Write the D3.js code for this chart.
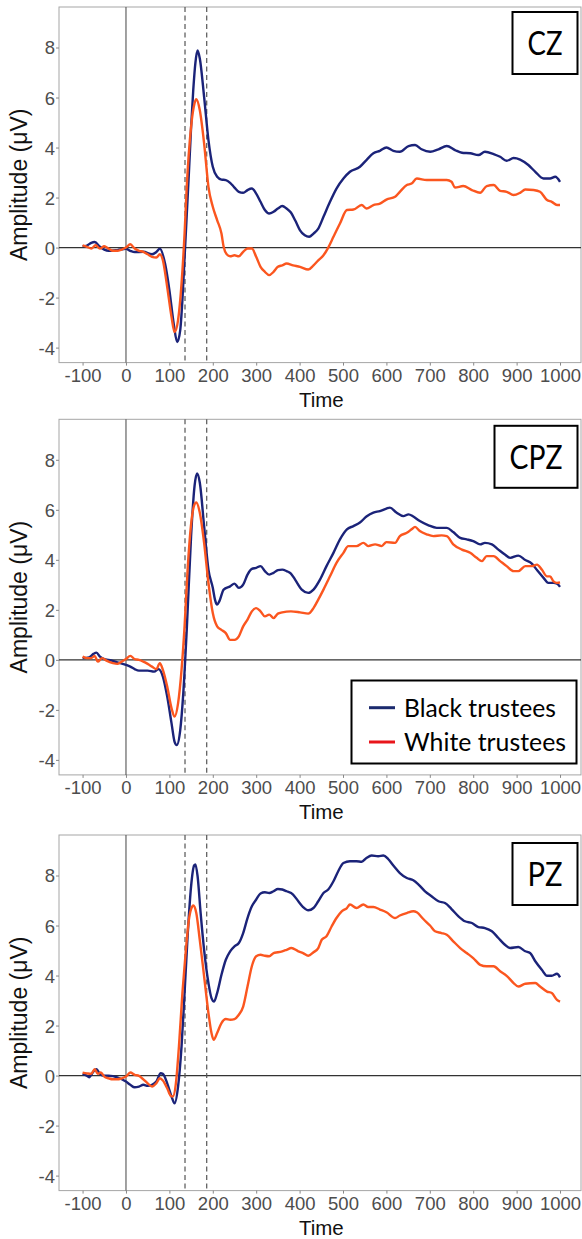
<!DOCTYPE html>
<html>
<head>
<meta charset="utf-8">
<script src="https://cdn.jsdelivr.net/npm/d3@7/dist/d3.min.js"></script>
<style>
  html, body { margin: 0; padding: 0; background: #fff; }
  svg { display: block; }
</style>
</head>
<body>
<svg id="chart" width="582" height="1239"></svg>
<script>
// ---------------- DATA ----------------
const electrodes = ["CZ", "CPZ", "PZ"];
const seriesNames = ["Black trustees", "White trustees"];
const xTicks = [-100, 0, 100, 200, 300, 400, 500, 600, 700, 800, 900, 1000];
const yTicks = [-4, -2, 0, 2, 4, 6, 8];
const dashedTimes = [136, 186];

const czBlack = [[-100,0.05],[-90,0.08],[-80,0.19],[-72,0.22],[-60,0.03],[-50,-0.08],[-40,-0.13],[-20,-0.1],[0,-0.05],[10,-0.13],[20,-0.18],[40,-0.17],[60,-0.27],[70,-0.18],[78,-0.05],[90,-0.64],[100,-1.7],[110,-3.05],[118,-3.78],[125,-3.3],[130,-2.1],[135,-0.4],[140,1.3],[145,3.0],[150,4.8],[155,6.3],[160,7.4],[165,7.88],[170,7.57],[180,6.03],[190,4.3],[200,3.23],[210,2.83],[220,2.72],[230,2.7],[240,2.59],[250,2.4],[260,2.23],[270,2.19],[280,2.3],[290,2.36],[300,2.16],[310,1.83],[320,1.5],[330,1.36],[340,1.43],[350,1.56],[360,1.66],[370,1.56],[380,1.4],[390,1.08],[401,0.69],[412,0.49],[422,0.43],[432,0.56],[443,0.76],[455,1.23],[470,1.83],[485,2.36],[501,2.76],[516,3.03],[539,3.23],[554,3.5],[570,3.77],[585,3.87],[600,4.0],[616,3.87],[631,3.83],[651,4.06],[666,4.1],[681,3.93],[701,3.83],[720,3.93],[739,4.06],[758,3.9],[774,3.79],[793,3.77],[812,3.7],[827,3.83],[847,3.74],[862,3.63],[877,3.47],[893,3.58],[908,3.52],[927,3.3],[943,3.03],[962,2.76],[977,2.76],[989,2.83],[1000,2.63]];

const czWhite = [[-100,0.09],[-90,0.03],[-80,-0.04],[-70,0.09],[-60,-0.04],[-50,0.05],[-40,-0.04],[-30,-0.13],[-20,-0.13],[-10,-0.08],[0,0],[10,0.13],[20,-0.04],[30,-0.13],[40,-0.17],[50,-0.27],[60,-0.37],[70,-0.4],[78,-0.27],[85,-0.5],[95,-1.58],[105,-2.78],[112,-3.38],[120,-2.9],[128,-1.44],[135,0.56],[140,2.43],[150,4.83],[158,5.77],[162,5.93],[170,5.5],[180,4.17],[190,2.43],[200,1.63],[210,1.1],[220,0.56],[225,0.03],[232,-0.27],[240,-0.35],[250,-0.31],[260,-0.35],[270,-0.17],[280,-0.04],[290,-0.04],[300,-0.37],[310,-0.77],[320,-0.97],[330,-1.1],[340,-0.97],[350,-0.77],[360,-0.71],[370,-0.64],[385,-0.71],[401,-0.77],[420,-0.88],[432,-0.71],[443,-0.51],[455,-0.31],[466,0],[478,0.43],[493,0.96],[509,1.5],[524,1.52],[543,1.7],[554,1.56],[570,1.7],[585,1.76],[600,1.92],[620,2.03],[631,2.23],[647,2.5],[658,2.56],[670,2.76],[693,2.7],[716,2.7],[739,2.7],[750,2.63],[758,2.4],[777,2.46],[797,2.3],[816,2.19],[831,2.46],[847,2.5],[862,2.27],[877,2.23],[893,2.1],[908,2.19],[920,2.32],[939,2.3],[954,2.23],[970,1.9],[981,1.83],[993,1.7],[1000,1.7]];

const cpzBlack = [[-100,0.07],[-85,0.1],[-75,0.24],[-68,0.29],[-60,0.13],[-50,0.03],[-40,0],[-20,-0.1],[0,-0.2],[10,-0.27],[20,-0.37],[30,-0.43],[50,-0.43],[65,-0.47],[75,-0.37],[85,-0.67],[95,-1.47],[105,-2.54],[112,-3.28],[117,-3.41],[125,-2.81],[132,-1.34],[140,1.2],[150,4.95],[158,6.96],[164,7.45],[170,7.09],[180,5.35],[190,3.61],[200,2.88],[205,2.41],[210,2.21],[215,2.34],[225,2.81],[240,2.94],[250,3.05],[260,2.88],[270,3.01],[280,3.41],[290,3.64],[300,3.68],[310,3.75],[320,3.55],[330,3.41],[340,3.48],[350,3.59],[360,3.61],[370,3.55],[380,3.45],[390,3.2],[405,2.81],[420,2.68],[432,2.81],[447,3.21],[462,3.75],[478,4.28],[493,4.82],[509,5.22],[524,5.35],[539,5.49],[554,5.73],[570,5.89],[585,5.95],[600,6.05],[608,6.09],[623,5.89],[639,5.75],[651,5.82],[662,5.73],[677,5.55],[697,5.38],[716,5.28],[739,5.28],[754,5.11],[770,4.88],[785,4.82],[800,4.75],[816,4.62],[827,4.68],[843,4.62],[858,4.41],[873,4.21],[885,4.08],[904,4.17],[920,3.99],[935,3.85],[947,3.59],[962,3.28],[973,3.08],[985,3.08],[993,3.05],[1000,2.92]];

const cpzWhite = [[-100,0.13],[-90,0.07],[-80,0.07],[-72,0.16],[-65,-0.07],[-55,0.07],[-45,-0.03],[-30,-0.13],[-20,-0.16],[-10,-0.07],[0,0.03],[10,0.16],[20,0.03],[30,0],[40,-0.07],[50,-0.16],[60,-0.27],[70,-0.37],[78,-0.13],[85,-0.4],[95,-1.07],[105,-1.94],[112,-2.27],[120,-1.74],[128,-0.4],[135,1.34],[142,3.61],[150,5.42],[158,6.22],[162,6.29],[170,5.89],[180,4.68],[190,3.08],[200,1.87],[210,1.34],[220,1.2],[230,1.07],[240,0.8],[250,0.8],[260,0.94],[270,1.34],[280,1.61],[290,1.94],[300,2.07],[310,1.94],[320,1.74],[330,1.81],[340,1.67],[350,1.85],[360,1.9],[380,1.94],[401,1.9],[420,1.85],[432,2.07],[443,2.41],[455,2.81],[470,3.34],[485,3.88],[501,4.28],[512,4.55],[531,4.55],[547,4.68],[558,4.55],[574,4.62],[589,4.55],[600,4.71],[620,4.68],[631,4.95],[647,5.08],[658,5.22],[666,5.32],[677,5.15],[693,5.02],[708,4.95],[727,4.98],[739,4.95],[754,4.62],[774,4.41],[793,4.28],[808,4.08],[820,3.95],[831,4.15],[847,4.15],[862,3.95],[877,3.75],[893,3.55],[904,3.55],[920,3.75],[935,3.75],[947,3.81],[958,3.61],[970,3.34],[977,3.34],[985,3.14],[993,3.08],[1000,3.1]];

const pzBlack = [[-100,0.07],[-90,-0.01],[-85,-0.07],[-75,0.16],[-68,0.25],[-60,0.07],[-50,-0.01],[-40,-0.01],[-20,-0.07],[0,-0.24],[10,-0.37],[20,-0.47],[30,-0.44],[40,-0.37],[50,-0.41],[60,-0.37],[70,-0.24],[80,0.09],[85,0.07],[95,-0.31],[105,-0.84],[112,-1.11],[120,-0.44],[128,1.16],[135,3.3],[142,5.57],[150,7.57],[157,8.4],[160,8.44],[165,7.97],[172,6.5],[180,5.03],[190,3.7],[197,3.1],[203,2.96],[210,3.3],[220,4.03],[230,4.63],[240,4.97],[250,5.17],[260,5.3],[270,5.7],[280,6.3],[290,6.77],[300,7.04],[310,7.28],[320,7.33],[330,7.3],[340,7.37],[350,7.46],[360,7.44],[370,7.37],[385,7.24],[397,6.97],[408,6.74],[420,6.61],[432,6.7],[443,6.97],[455,7.3],[466,7.44],[478,7.77],[489,8.17],[501,8.5],[516,8.57],[531,8.57],[543,8.55],[554,8.7],[566,8.8],[581,8.77],[593,8.8],[604,8.66],[616,8.4],[631,8.1],[647,7.9],[662,7.81],[674,7.64],[689,7.37],[704,7.17],[720,6.97],[735,6.9],[750,6.66],[766,6.37],[781,6.17],[797,6.1],[812,5.94],[827,5.9],[843,5.77],[858,5.5],[873,5.23],[885,5.1],[904,5.14],[920,4.97],[931,4.9],[943,4.57],[958,4.23],[970,3.99],[981,3.99],[993,4.07],[1000,3.93]];

const pzWhite = [[-100,0.12],[-90,0.09],[-80,0.07],[-72,0.25],[-65,0.07],[-58,0.12],[-50,-0.04],[-40,-0.11],[-30,-0.15],[-20,-0.15],[-10,-0.11],[0,-0.04],[10,0.12],[20,0.03],[30,-0.01],[40,-0.15],[50,-0.31],[60,-0.44],[70,-0.31],[78,-0.11],[85,-0.2],[95,-0.51],[103,-0.81],[108,-0.84],[115,-0.31],[122,1.16],[130,3.3],[138,5.03],[145,6.24],[152,6.74],[155,6.8],[162,6.5],[170,5.43],[180,3.97],[190,2.5],[197,1.7],[202,1.43],[210,1.7],[220,2.1],[230,2.26],[240,2.23],[250,2.26],[260,2.43],[270,2.76],[280,3.56],[290,4.37],[300,4.77],[310,4.83],[320,4.79],[330,4.77],[340,4.9],[350,4.93],[360,4.97],[370,5.03],[381,5.1],[397,4.97],[408,4.9],[420,4.79],[432,4.93],[443,5.1],[451,5.43],[462,5.57],[474,5.97],[485,6.3],[497,6.57],[509,6.7],[516,6.84],[531,6.7],[547,6.84],[558,6.74],[570,6.74],[585,6.64],[600,6.53],[620,6.3],[631,6.4],[647,6.5],[662,6.57],[670,6.53],[685,6.26],[701,5.99],[712,5.77],[727,5.7],[739,5.63],[754,5.37],[770,5.1],[785,4.9],[800,4.7],[816,4.43],[831,4.37],[847,4.37],[862,4.17],[877,3.99],[893,3.7],[904,3.56],[920,3.67],[943,3.7],[954,3.56],[970,3.36],[981,3.3],[993,3.03],[1000,2.96]];

// ---------------- LAYOUT / STYLE ----------------
const panels = [
  { name: electrodes[0], series: [czBlack, czWhite], top: 7 },
  { name: electrodes[1], series: [cpzBlack, cpzWhite], top: 419.3 },
  { name: electrodes[2], series: [pzBlack, pzWhite], top: 835 }
];
const lineColors = ["#1b2379", "#fb561f"];
const legendColors = ["#1b2a6e", "#e8151b"];
const panelH = 355.6;
const plotLeft = 59, plotRight = 581;

const svg = d3.select("#chart");
const x = d3.scaleLinear().domain([-155, 1055]).range([58.7, 583.9]);

const tickFont = "'Liberation Sans', Arial, Helvetica, sans-serif";
const labelFont = "Lato, 'Open Sans', sans-serif";
const fmt = d => String(d);

panels.forEach((p, i) => {
  const y = d3.scaleLinear().domain([-4.6, 9.62]).range([p.top + panelH, p.top]);
  const g = svg.append("g");
  const bottom = p.top + panelH;

  // panel border
  g.append("rect")
    .attr("x", plotLeft).attr("y", p.top)
    .attr("width", plotRight - plotLeft).attr("height", panelH)
    .attr("fill", "none").attr("stroke", "#a6a6a6").attr("stroke-width", 1);

  // x axis
  const xAxis = d3.axisBottom(x).tickValues(xTicks).tickSize(3).tickPadding(3).tickFormat(fmt);
  const gx = g.append("g").attr("transform", `translate(0,${bottom})`).call(xAxis);
  gx.select(".domain").remove();
  gx.selectAll(".tick line").attr("stroke", "#888");
  gx.selectAll(".tick text")
    .attr("fill", "#4d4d4d").attr("font-size", 18.5).attr("font-family", tickFont)
    .attr("dy", null).attr("y", 19.5);

  // y axis
  const yAxis = d3.axisLeft(y).tickValues(yTicks).tickSize(3).tickPadding(3).tickFormat(fmt);
  const gy = g.append("g").attr("transform", `translate(${plotLeft},0)`).call(yAxis);
  gy.select(".domain").remove();
  gy.selectAll(".tick line").attr("stroke", "#888");
  gy.selectAll(".tick text")
    .attr("fill", "#4d4d4d").attr("font-size", 18.5).attr("font-family", tickFont)
    .attr("x", -4).attr("dy", "0.35em");

  // axis titles
  g.append("text")
    .attr("x", (x(-155) + x(1055)) / 2).attr("y", bottom + 44)
    .attr("text-anchor", "middle").attr("font-size", 20.5).attr("font-family", tickFont)
    .attr("fill", "#111").text("Time");
  g.append("text")
    .attr("transform", `translate(27,${p.top + panelH / 2}) rotate(-90)`)
    .attr("text-anchor", "middle").attr("font-size", 23).attr("font-family", tickFont)
    .attr("fill", "#111").text("Amplitude (μV)");

  // reference lines
  g.append("line")
    .attr("x1", plotLeft).attr("x2", plotRight)
    .attr("y1", y(0)).attr("y2", y(0))
    .attr("stroke", "#333").attr("stroke-width", 1.3);
  g.append("line")
    .attr("x1", x(0)).attr("x2", x(0))
    .attr("y1", p.top).attr("y2", bottom)
    .attr("stroke", "#555").attr("stroke-width", 1.1);
  g.selectAll(".dash").data(dashedTimes).join("line")
    .attr("class", "dash")
    .attr("x1", d => x(d)).attr("x2", d => x(d))
    .attr("y1", p.top).attr("y2", bottom)
    .attr("stroke", "#555").attr("stroke-width", 1.2)
    .attr("stroke-dasharray", "5,3.5");

  // lines
  const line = d3.line().x(d => x(d[0])).y(d => y(d[1])).curve(d3.curveMonotoneX);
  p.series.forEach((s, k) => {
    g.append("path").datum(s)
      .attr("d", line).attr("fill", "none")
      .attr("stroke", lineColors[k]).attr("stroke-width", 2.4)
      .attr("stroke-linejoin", "round");
  });

  // electrode label box
  const boxTop = p.top + 5 + i * 1.5, boxH = 62, boxRight = 577.5;
  const targetW = p.name.length === 3 ? 53 : 35;
  const boxW = targetW + 30;
  g.append("rect")
    .attr("x", boxRight - boxW).attr("y", boxTop)
    .attr("width", boxW).attr("height", boxH)
    .attr("fill", "#fff").attr("stroke", "#000").attr("stroke-width", 2);
  g.append("text")
    .attr("font-family", labelFont).attr("font-size", 33).attr("fill", "#000")
    .attr("text-anchor", "middle")
    .attr("x", boxRight - boxW / 2).attr("y", boxTop + boxH / 2 + 12)
    .attr("textLength", targetW).attr("lengthAdjust", "spacingAndGlyphs")
    .text(p.name);

  // legend in the middle panel
  if (i === 1) {
    const lg = g.append("g");
    lg.append("rect")
      .attr("x", 351.5).attr("y", 680.5).attr("width", 225).attr("height", 83)
      .attr("fill", "#fff").attr("stroke", "#000").attr("stroke-width", 2);
    const rows = [707.7, 742];
    const widths = [152, 162];
    seriesNames.forEach((nm, k) => {
      lg.append("line")
        .attr("x1", 369).attr("x2", 395).attr("y1", rows[k]).attr("y2", rows[k])
        .attr("stroke", legendColors[k]).attr("stroke-width", 3);
      lg.append("text")
        .attr("x", 404).attr("y", rows[k] + 9)
        .attr("font-family", labelFont).attr("font-size", 25.5).attr("fill", "#000")
        .attr("textLength", widths[k]).attr("lengthAdjust", "spacingAndGlyphs")
        .text(nm);
    });
  }
});
</script>
</body>
</html>
